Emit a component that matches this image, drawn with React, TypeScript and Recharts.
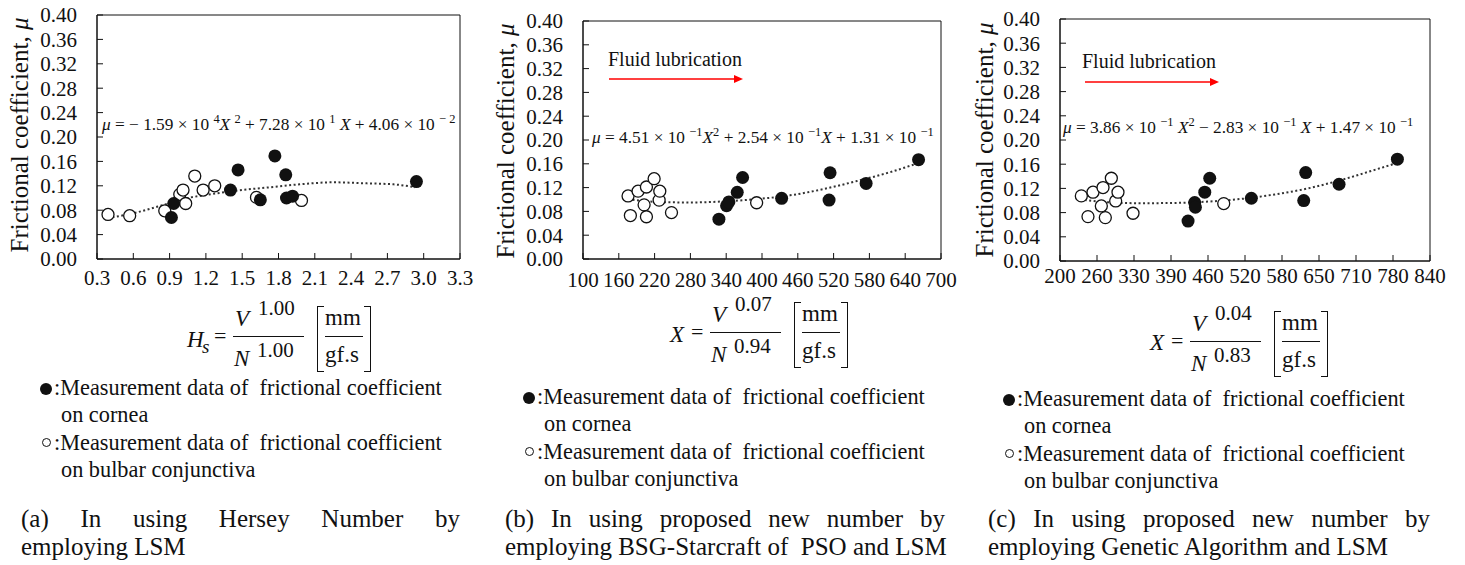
import React from 'react';
import { ComposedChart, XAxis, YAxis, Scatter, Line, ReferenceArea } from 'recharts';

const FONT = '"Liberation Serif", "Times New Roman", serif';
const INK = '#111';

type Pt = { x: number; y: number };

// shared y axis
const yTicks = [0, 0.04, 0.08, 0.12, 0.16, 0.2, 0.24, 0.28, 0.32, 0.36, 0.4];

// (a) Hersey number
const xTicksA = [0.3, 0.6, 0.9, 1.2, 1.5, 1.8, 2.1, 2.4, 2.7, 3.0, 3.3];
const corneaA: Pt[] = [
  { x: 0.915, y: 0.068 }, { x: 0.934, y: 0.091 }, { x: 1.403, y: 0.113 },
  { x: 1.466, y: 0.146 }, { x: 1.65, y: 0.097 }, { x: 1.77, y: 0.169 },
  { x: 1.86, y: 0.138 }, { x: 1.866, y: 0.1 }, { x: 1.916, y: 0.103 },
  { x: 2.94, y: 0.127 },
];
const conjA: Pt[] = [
  { x: 0.391, y: 0.073 }, { x: 0.57, y: 0.071 }, { x: 0.86, y: 0.079 },
  { x: 0.984, y: 0.106 }, { x: 1.011, y: 0.113 }, { x: 1.033, y: 0.091 },
  { x: 1.108, y: 0.136 }, { x: 1.177, y: 0.113 }, { x: 1.273, y: 0.12 },
  { x: 1.618, y: 0.101 }, { x: 1.99, y: 0.096 },
];
const trendA: Pt[] = [
  { x: 0.391, y: 0.067 }, { x: 0.598, y: 0.075 }, { x: 0.873, y: 0.09 },
  { x: 1.039, y: 0.0995 }, { x: 1.204, y: 0.105 }, { x: 1.425, y: 0.1115 },
  { x: 1.7, y: 0.117 }, { x: 1.976, y: 0.1224 }, { x: 2.25, y: 0.1257 },
  { x: 2.53, y: 0.124 }, { x: 2.75, y: 0.1224 }, { x: 2.93, y: 0.1175 },
];

// (b) BSG-Starcraft of PSO
const xTicksB = [100, 160, 220, 280, 340, 400, 460, 520, 580, 640, 700];
const corneaB: Pt[] = [
  { x: 327.8, y: 0.067 }, { x: 340.6, y: 0.0895 }, { x: 344.5, y: 0.096 },
  { x: 358.5, y: 0.112 }, { x: 367.5, y: 0.137 }, { x: 432.9, y: 0.102 },
  { x: 512.4, y: 0.099 }, { x: 514.1, y: 0.145 }, { x: 574.5, y: 0.127 },
  { x: 662.4, y: 0.167 },
];
const conjB: Pt[] = [
  { x: 175.5, y: 0.106 }, { x: 179.4, y: 0.073 }, { x: 192.3, y: 0.114 },
  { x: 202.4, y: 0.091 }, { x: 206.3, y: 0.121 }, { x: 206.3, y: 0.071 },
  { x: 219.2, y: 0.135 }, { x: 227.6, y: 0.099 }, { x: 228.7, y: 0.114 },
  { x: 248.3, y: 0.078 }, { x: 391, y: 0.0945 },
];
const trendB: Pt[] = [
  { x: 175.5, y: 0.1007 }, { x: 223, y: 0.096 }, { x: 279, y: 0.095 },
  { x: 335, y: 0.0968 }, { x: 391, y: 0.1007 }, { x: 447, y: 0.107 },
  { x: 503, y: 0.1175 }, { x: 559, y: 0.131 }, { x: 615, y: 0.146 },
  { x: 660, y: 0.1606 },
];

// (c) Genetic Algorithm
const xTicksC = [200, 264, 328, 392, 456, 520, 584, 648, 712, 776, 840];
const xTickLabelsC = ['200', '260', '330', '390', '460', '520', '580', '650', '710', '780', '840'];
const corneaC: Pt[] = [
  { x: 421.5, y: 0.066 }, { x: 433, y: 0.0966 }, { x: 434.2, y: 0.0888 },
  { x: 450.4, y: 0.1137 }, { x: 459, y: 0.1368 }, { x: 531, y: 0.1037 },
  { x: 621.6, y: 0.0999 }, { x: 625, y: 0.1462 }, { x: 682.7, y: 0.1269 },
  { x: 783.6, y: 0.1683 },
];
const conjC: Pt[] = [
  { x: 236.9, y: 0.1076 }, { x: 248.4, y: 0.0734 }, { x: 257.1, y: 0.1137 },
  { x: 271.5, y: 0.091 }, { x: 274.4, y: 0.1214 }, { x: 278.4, y: 0.0717 },
  { x: 288.8, y: 0.1368 }, { x: 296.3, y: 0.0993 }, { x: 300.3, y: 0.1137 },
  { x: 326.3, y: 0.0789 }, { x: 483.2, y: 0.0949 },
];
const trendC: Pt[] = [
  { x: 242.7, y: 0.101 }, { x: 283, y: 0.097 }, { x: 340.7, y: 0.0955 },
  { x: 398.3, y: 0.096 }, { x: 456, y: 0.0982 }, { x: 513.4, y: 0.1026 },
  { x: 571.4, y: 0.11 }, { x: 629, y: 0.12 }, { x: 686.6, y: 0.134 },
  { x: 744.4, y: 0.1506 }, { x: 781.9, y: 0.1617 },
];

const filledDot = (p: any) => <circle cx={p.cx} cy={p.cy} r={6.5} fill={INK} />;
const openDot = (p: any) => (
  <circle cx={p.cx} cy={p.cy} r={6} fill="#fff" stroke={INK} strokeWidth={1.3} />
);

const tickStyle = { fill: INK, fontSize: 21, fontFamily: FONT };

type PanelProps = {
  left: number; width: number; top: number; yw: number; right: number; xh: number;
  domain: [number, number]; xTicks: number[]; fmt: (v: number, i: number) => string;
  xMargin: number; cornea: Pt[]; conj: Pt[]; trend: Pt[];
};

const Panel = (p: PanelProps) => (
  <div style={{ position: 'absolute', left: p.left, top: 0 }}>
    <ComposedChart
      width={p.width}
      height={300}
      margin={{ top: p.top, right: p.right, bottom: 0, left: 0 }}
    >
      <XAxis
        type="number"
        dataKey="x"
        domain={p.domain}
        ticks={p.xTicks}
        interval={0}
        allowDataOverflow
        tickFormatter={p.fmt}
        height={p.xh}
        tickSize={-6}
        tickMargin={p.xMargin}
        tick={tickStyle}
        axisLine={{ stroke: INK }}
        tickLine={{ stroke: INK }}
      />
      <YAxis
        type="number"
        dataKey="y"
        domain={[0, 0.4]}
        ticks={yTicks}
        interval={0}
        width={p.yw}
        tickSize={-6}
        tickMargin={26}
        tickFormatter={(v: number) => v.toFixed(2)}
        tick={tickStyle}
        axisLine={{ stroke: INK }}
        tickLine={{ stroke: INK }}
      />
      <ReferenceArea
        x1={p.domain[0]}
        x2={p.domain[1]}
        y1={0}
        y2={0.4}
        fill="none"
        stroke={INK}
        strokeWidth={1}
        fillOpacity={0}
      />
      <Line
        data={p.trend}
        dataKey="y"
        type="monotone"
        stroke="#333"
        strokeWidth={2}
        strokeDasharray="2 2.5"
        dot={false}
        activeDot={false}
        isAnimationActive={false}
      />
      <Scatter data={p.conj} dataKey="y" shape={openDot} isAnimationActive={false} />
      <Scatter data={p.cornea} dataKey="y" shape={filledDot} isAnimationActive={false} />
    </ComposedChart>
  </div>
);

const Txt = ({ x, base, size, italic, children }: any) => (
  <div
    style={{
      position: 'absolute',
      left: x,
      top: base - size * 0.8375,
      fontSize: size,
      lineHeight: `${size}px`,
      fontStyle: italic ? 'italic' : 'normal',
      whiteSpace: 'pre',
    }}
  >
    {children}
  </div>
);

const YTitle = ({ cx, cy }: { cx: number; cy: number }) => (
  <div
    style={{
      position: 'absolute',
      left: cx - 150,
      top: cy - 15,
      width: 300,
      height: 30,
      lineHeight: '30px',
      fontSize: 25,
      textAlign: 'center',
      transform: 'rotate(-90deg)',
      whiteSpace: 'nowrap',
    }}
  >
    Frictional coefficient, <i>μ</i>
  </div>
);

const Formula = ({ bx, by, lhs, num, den }: any) => (
  <>
    {lhs}
    <Txt x={bx - 19} base={by + 6} size={22}>=</Txt>
    <Txt x={bx + 2} base={by - 11} size={23} italic>V</Txt>
    <Txt x={bx + 25} base={by - 21} size={21}>{num}</Txt>
    <div style={{ position: 'absolute', left: bx, top: by - 1, width: 71, borderTop: `1.5px solid ${INK}` }} />
    <Txt x={bx + 1} base={by + 29} size={23} italic>N</Txt>
    <Txt x={bx + 24} base={by + 21} size={21}>{den}</Txt>
    <div
      style={{
        position: 'absolute', left: bx + 84, top: by - 31, width: 6, height: 64,
        borderLeft: `1.8px solid ${INK}`, borderTop: `1.5px solid ${INK}`, borderBottom: `1.5px solid ${INK}`,
      }}
    />
    <div
      style={{
        position: 'absolute', left: bx + 131, top: by - 31, width: 6, height: 64,
        borderRight: `1.8px solid ${INK}`, borderTop: `1.5px solid ${INK}`, borderBottom: `1.5px solid ${INK}`,
      }}
    />
    <Txt x={bx + 92} base={by - 12} size={23}>mm</Txt>
    <div style={{ position: 'absolute', left: bx + 92, top: by - 1, width: 38, borderTop: `1.5px solid ${INK}` }} />
    <Txt x={bx + 92} base={by + 25} size={23}>gf.s</Txt>
  </>
);

const Legend = ({ x, base }: { x: number; base: number }) => (
  <>
    <div style={{ position: 'absolute', left: x, top: base - 13, width: 12, height: 12, borderRadius: 6, background: INK }} />
    <Txt x={x + 14} base={base} size={22.3}>{':Measurement data of  frictional coefficient'}</Txt>
    <Txt x={x + 21} base={base + 27} size={22.3}>on cornea</Txt>
    <div
      style={{
        position: 'absolute', left: x + 2, top: base + 42, width: 7, height: 7,
        borderRadius: 5, border: `1px solid ${INK}`,
      }}
    />
    <Txt x={x + 14} base={base + 55} size={22.3}>{':Measurement data of  frictional coefficient'}</Txt>
    <Txt x={x + 21} base={base + 82} size={22.3}>on bulbar conjunctiva</Txt>
  </>
);

const Caption = ({ x, w, l1, l2 }: { x: number; w: number; l1: string; l2: string }) => (
  <>
    <div
      style={{
        position: 'absolute', left: x, top: 527 - 25 * 0.8375, width: w, fontSize: 25,
        lineHeight: '25px', textAlign: 'justify', textAlignLast: 'justify', whiteSpace: 'nowrap',
      }}
    >
      {l1}
    </div>
    <Txt x={x} base={555} size={25}>{l2}</Txt>
  </>
);

const Arrow = ({ x1, x2, y }: { x1: number; x2: number; y: number }) => (
  <svg style={{ position: 'absolute', left: 0, top: 0 }} width={1465} height={565}>
    <line x1={x1} y1={y} x2={x2 - 8} y2={y} stroke="#f00" strokeWidth={1.5} />
    <polygon points={`${x2},${y} ${x2 - 9},${y - 4} ${x2 - 9},${y + 4}`} fill="#f00" />
  </svg>
);

const sup = (s: string) => (
  <span style={{ fontSize: '0.72em', position: 'relative', top: '-0.55em' }}>{s}</span>
);

const EqText = ({ x, base, children }: any) => (
  <Txt x={x} base={base} size={17.3}>{children}</Txt>
);

export default function App() {
  return (
    <div
      style={{
        position: 'absolute', left: 0, top: 0, width: 1465, height: 565,
        background: '#fff', overflow: 'hidden', fontFamily: FONT, color: INK,
      }}
    >
      <Panel
        left={0} width={480} top={15} yw={97} right={20} xh={41}
        domain={[0.3, 3.3]} xTicks={xTicksA} fmt={(v) => v.toFixed(1)} xMargin={17}
        cornea={corneaA} conj={conjA} trend={trendA}
      />
      <Panel
        left={490} width={480} top={21} yw={93} right={29} xh={41}
        domain={[100, 700]} xTicks={xTicksB} fmt={(v) => String(v)} xMargin={19}
        cornea={corneaB} conj={conjB} trend={trendB}
      />
      <Panel
        left={975} width={490} top={19} yw={85} right={35} xh={39}
        domain={[200, 840]} xTicks={xTicksC} fmt={(_v, i) => xTickLabelsC[i]} xMargin={13}
        cornea={corneaC} conj={conjC} trend={trendC}
      />

      <YTitle cx={20} cy={135} />
      <YTitle cx={506} cy={141} />
      <YTitle cx={985} cy={140} />

      <EqText x={102} base={130}>
        <i>μ</i>{' = − 1.59 × 10 '}{sup('4')}<i>X</i>{' '}{sup('2')}{' + 7.28 × 10 '}{sup('1')}{' '}<i>X</i>{' + 4.06 × 10 '}{sup('− 2')}
      </EqText>
      <EqText x={592} base={143}>
        <i>μ</i>{' = 4.51 × 10 '}{sup('−1')}<i>X</i>{sup('2')}{' + 2.54 × 10 '}{sup('−1')}<i>X</i>{' + 1.31 × 10 '}{sup('−1')}
      </EqText>
      <EqText x={1063} base={133}>
        <i>μ</i>{' = 3.86 × 10 '}{sup('−1')}{' '}<i>X</i>{sup('2')}{' − 2.83 × 10 '}{sup('−1')}{' '}<i>X</i>{' + 1.47 × 10 '}{sup('−1')}
      </EqText>

      <Txt x={608} base={66} size={20}>Fluid lubrication</Txt>
      <Txt x={1082} base={68} size={20}>Fluid lubrication</Txt>
      <Arrow x1={609} x2={743} y={79} />
      <Arrow x1={1085} x2={1219} y={82} />

      <Formula
        bx={233} by={337} num="1.00" den="1.00"
        lhs={
          <>
            <Txt x={187} base={347} size={23} italic>H</Txt>
            <Txt x={202} base={353} size={19} italic>s</Txt>
          </>
        }
      />
      <Formula bx={710} by={333} num="0.07" den="0.94" lhs={<Txt x={670} base={342} size={23} italic>X</Txt>} />
      <Formula bx={1190} by={342} num="0.04" den="0.83" lhs={<Txt x={1150} base={350} size={23} italic>X</Txt>} />

      <Legend x={40} base={396} />
      <Legend x={523} base={405} />
      <Legend x={1003} base={407} />

      <Caption x={21} w={439} l1="(a) In using Hersey Number by" l2="employing LSM" />
      <Caption x={505} w={440} l1="(b) In using proposed new number by" l2="employing BSG-Starcraft of  PSO and LSM" />
      <Caption x={988} w={442} l1="(c) In using proposed new number by" l2="employing Genetic Algorithm and LSM" />
    </div>
  );
}
